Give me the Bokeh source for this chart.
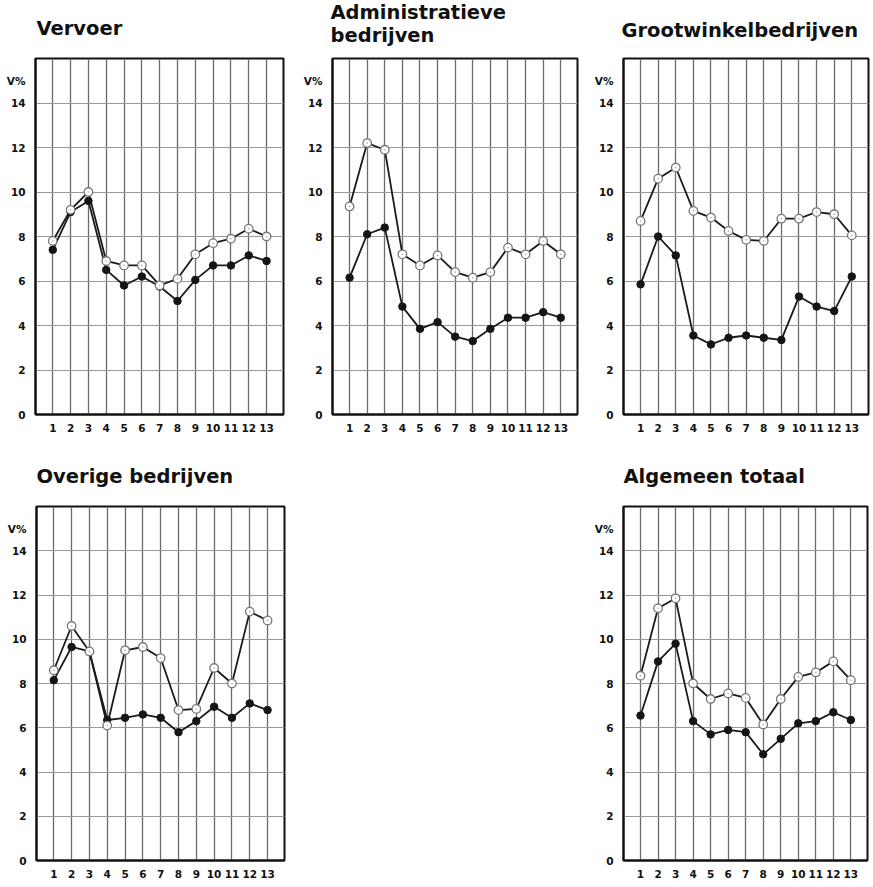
from bokeh.plotting import figure
from bokeh.layouts import row, column
from bokeh.models import Range1d, FixedTicker, Spacer
from bokeh.embed import file_html
from bokeh.resources import INLINE

# ---- data ----
periods = list(range(1, 14))
period_labels = [str(i) for i in periods]
y_ticks = [0, 2, 4, 6, 8, 10, 12, 14]
y_unit_label = "V%"

titles = ["Vervoer", "Administratieve\nbedrijven", "Grootwinkelbedrijven",
          "Overige bedrijven", "Algemeen totaal"]

vervoer_open = [7.8, 9.2, 10.0, 6.9, 6.7, 6.7, 5.8, 6.1, 7.2, 7.7, 7.9, 8.35, 8.0]
vervoer_dark = [7.4, 9.1, 9.6, 6.5, 5.8, 6.2, 5.75, 5.1, 6.05, 6.7, 6.7, 7.15, 6.9]

admin_open = [9.35, 12.2, 11.9, 7.2, 6.7, 7.15, 6.4, 6.15, 6.4, 7.5, 7.2, 7.8, 7.2]
admin_dark = [6.15, 8.1, 8.4, 4.85, 3.85, 4.15, 3.5, 3.3, 3.85, 4.35, 4.35, 4.6, 4.35]

groot_open = [8.7, 10.6, 11.1, 9.15, 8.85, 8.25, 7.85, 7.8, 8.8, 8.8, 9.1, 9.0, 8.05]
groot_dark = [5.85, 8.0, 7.15, 3.55, 3.15, 3.45, 3.55, 3.45, 3.35, 5.3, 4.85, 4.65, 6.2]

overig_open = [8.6, 10.6, 9.45, 6.1, 9.5, 9.65, 9.15, 6.8, 6.85, 8.7, 8.0, 11.25, 10.85]
overig_dark = [8.15, 9.65, 9.45, 6.35, 6.45, 6.6, 6.45, 5.8, 6.3, 6.95, 6.45, 7.1, 6.8]

totaal_open = [8.35, 11.4, 11.85, 8.0, 7.3, 7.55, 7.35, 6.15, 7.3, 8.3, 8.5, 9.0, 8.15]
totaal_dark = [6.55, 9.0, 9.8, 6.3, 5.7, 5.9, 5.8, 4.8, 5.5, 6.2, 6.3, 6.7, 6.35]

FONT = "DejaVu Sans"


def panel(title, open_vals, dark_vals, width, height, bl, br, bt, bb,
          standoff, offset=0, top_shift=0):
    p = figure(width=width, height=height, x_range=Range1d(0.03, 13.95),
               y_range=Range1d(0, 16), output_backend="svg",
               toolbar_location=None, min_border_left=bl, min_border_right=br,
               min_border_top=bt, min_border_bottom=bb)
    if top_shift:
        p.margin = (-top_shift, 0, 0, 0)
    p.title.text = title
    p.title.text_font = FONT
    p.title.text_font_size = "19.5px"
    p.title.text_font_style = "bold"
    p.title.text_color = "#111111"
    p.title.align = "left"
    p.title.vertical_align = "bottom"
    p.title.standoff = standoff
    p.title.offset = offset
    p.outline_line_color = "#111111"
    p.outline_line_width = 2
    p.outline_line_alpha = 1
    p.background_fill_color = "white"
    p.border_fill_color = "white"

    p.xaxis.ticker = FixedTicker(ticks=periods)
    p.xaxis.major_label_overrides = {i: lab for i, lab in zip(periods, period_labels)}
    yt = y_ticks + [15]
    p.yaxis.ticker = FixedTicker(ticks=yt)
    ov = {t: str(t) for t in y_ticks}
    ov[15] = y_unit_label
    p.yaxis.major_label_overrides = ov
    for ax in (p.xaxis, p.yaxis):
        ax.major_tick_line_color = None
        ax.minor_tick_line_color = None
        ax.axis_line_color = "#111111"
        ax.axis_line_width = 2
        ax.major_label_text_font = FONT
        ax.major_label_text_font_size = "10.5px"
        ax.major_label_text_font_style = "bold"
        ax.major_label_text_color = "#111111"
    p.xaxis.major_label_standoff = 3
    p.yaxis.major_label_standoff = 4

    p.xgrid.ticker = FixedTicker(ticks=periods)
    p.xgrid.grid_line_color = "#6a6a6a"
    p.xgrid.grid_line_width = 1.3
    p.ygrid.ticker = FixedTicker(ticks=y_ticks[1:])
    p.ygrid.grid_line_color = "#9a9a9a"
    p.ygrid.grid_line_width = 1.1

    p.line(periods, open_vals, line_color="#1a1a1a", line_width=1.8)
    p.line(periods, dark_vals, line_color="#1a1a1a", line_width=1.8)
    p.scatter(periods, dark_vals, size=7.5, fill_color="#151515",
              line_color="#151515", line_width=1)
    p.scatter(periods, open_vals, size=8.5, fill_color="white",
              line_color="#777777", line_width=1.3)
    p.scatter(periods, open_vals, size=1.6, fill_color="#aaaaaa",
              line_color=None)
    return p


SHIFT = 18
p1 = panel(titles[0], vervoer_open, vervoer_dark, 300, 442 + SHIFT, 35, 17, 58 + SHIFT, 28,
           38, offset=1, top_shift=SHIFT)
p2 = panel(titles[1], admin_open, admin_dark, 290, 442 + SHIFT, 28, 13, 58 + SHIFT, 28,
           23, offset=-2, top_shift=SHIFT)
p3 = panel(titles[2], groot_open, groot_dark, 283, 442 + SHIFT, 33, 5, 58 + SHIFT, 28,
           34, offset=-2, top_shift=SHIFT)
p4 = panel(titles[3], overig_open, overig_dark, 300, 443, 36, 16, 64, 25, 38)
p5 = panel(titles[4], totaal_open, totaal_dark, 283, 443, 33, 6, 64, 25, 38)

layout = column(row(p1, p2, p3), row(p4, Spacer(width=290, height=443), p5))

open("out.html", "w").write(file_html(layout, INLINE))
